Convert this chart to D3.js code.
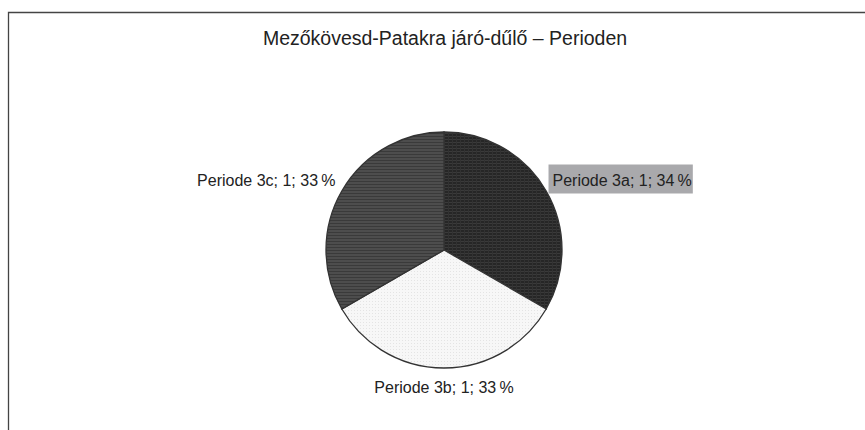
<!DOCTYPE html>
<html>
  <head>
    <meta charset="utf-8">
    <script src="https://cdn.jsdelivr.net/npm/d3@7"></script>
    <style>
      body { margin: 0; background: #fff; }
      text { font-family: "Liberation Sans", Arial, sans-serif; fill: #222; }
    </style>
  </head>
  <body>
    <script type="text/javascript">
      // chart values
      var title = "Mezőkövesd-Patakra járó-dűlő – Perioden";
      var categories = ["Periode 3a", "Periode 3b", "Periode 3c"];
      var values = [1, 1, 1];
      var percents = [34, 33, 33];   // as printed on the chart
      var highlighted = ["Periode 3a"];

      var width = 865,
          height = 430,
          radius = 118;

      var svg = d3.select("body")
        .append("svg")
          .attr("width", width)
          .attr("height", height);

      // frame: only top and left edges are visible
      svg.append("path")
        .attr("d", "M8.5," + height + "V12.5H" + width)
        .style("fill", "none")
        .style("stroke", "#444")
        .style("stroke-width", 1.3);

      svg.append("text")
        .attr("x", 445)
        .attr("y", 45)
        .attr("text-anchor", "middle")
        .style("font-size", "19.5px")
        .text(title);

      // textures for the slices
      var defs = svg.append("defs");

      var pA = defs.append("pattern")
        .attr("id", "texA")
        .attr("patternUnits", "userSpaceOnUse")
        .attr("width", 4).attr("height", 3);
      pA.append("rect").attr("width", 4).attr("height", 3).style("fill", "#262626");
      pA.append("rect").attr("width", 4).attr("height", 1).style("fill", "#3a3a3a");
      pA.append("rect").attr("width", 1).attr("height", 3).style("fill", "#323232");

      var pB = defs.append("pattern")
        .attr("id", "texB")
        .attr("patternUnits", "userSpaceOnUse")
        .attr("width", 3).attr("height", 3);
      pB.append("rect").attr("width", 3).attr("height", 3).style("fill", "#f7f7f7");
      pB.append("rect").attr("width", 1).attr("height", 1).style("fill", "#e4e4e4");

      var pC = defs.append("pattern")
        .attr("id", "texC")
        .attr("patternUnits", "userSpaceOnUse")
        .attr("width", 4).attr("height", 3);
      pC.append("rect").attr("width", 4).attr("height", 3).style("fill", "#4d4d4d");
      pC.append("rect").attr("width", 4).attr("height", 1).style("fill", "#3a3a3a");

      var fills = d3.scaleOrdinal()
        .domain(categories)
        .range(["url(#texA)", "url(#texB)", "url(#texC)"]);

      var data = categories.map(function (c, i) {
        return { name: c, value: values[i], pct: percents[i] };
      });

      var pie = d3.pie()
        .sort(null)
        .value(function (d) { return d.value; });

      var arc = d3.arc().innerRadius(0).outerRadius(radius);
      var labelArc = d3.arc().innerRadius(radius + 5).outerRadius(radius + 5);

      var g = svg.append("g")
        .attr("transform", "translate(444,250)");

      var arcs = pie(data);

      g.selectAll("path.slice")
        .data(arcs)
        .enter()
        .append("path")
          .attr("class", "slice")
          .attr("d", arc)
          .style("fill", function (d) { return fills(d.data.name); })
          .style("stroke", "#333")
          .style("stroke-width", 1.3);

      var labels = g.selectAll("g.label")
        .data(arcs)
        .enter()
        .append("g")
          .attr("class", "label");

      labels.each(function (d) {
        var mid = (d.startAngle + d.endAngle) / 2;
        var c = labelArc.centroid(d);
        var s = Math.sin(mid), co = Math.cos(mid);
        var anchor = Math.abs(s) < 0.3 ? "middle" : (s > 0 ? "start" : "end");
        var dy = co < -0.7 ? 20 : -3;
        var t = d3.select(this).append("text")
          .attr("x", c[0] + (anchor === "start" ? 2 : anchor === "end" ? -2 : 0))
          .attr("y", c[1] + dy)
          .attr("text-anchor", anchor)
          .style("font-size", "16px")
          .text(d.data.name + "; " + d.data.value + "; " + d.data.pct + "\u2009%");
        if (highlighted.indexOf(d.data.name) >= 0) {
          var b = t.node().getBBox();
          d3.select(this).insert("rect", "text")
            .attr("x", b.x - 4)
            .attr("y", b.y - 7)
            .attr("width", b.width + 5)
            .attr("height", b.height + 12)
            .style("fill", "#a9a9ac");
        }
      });
    </script>
  </body>
</html>
